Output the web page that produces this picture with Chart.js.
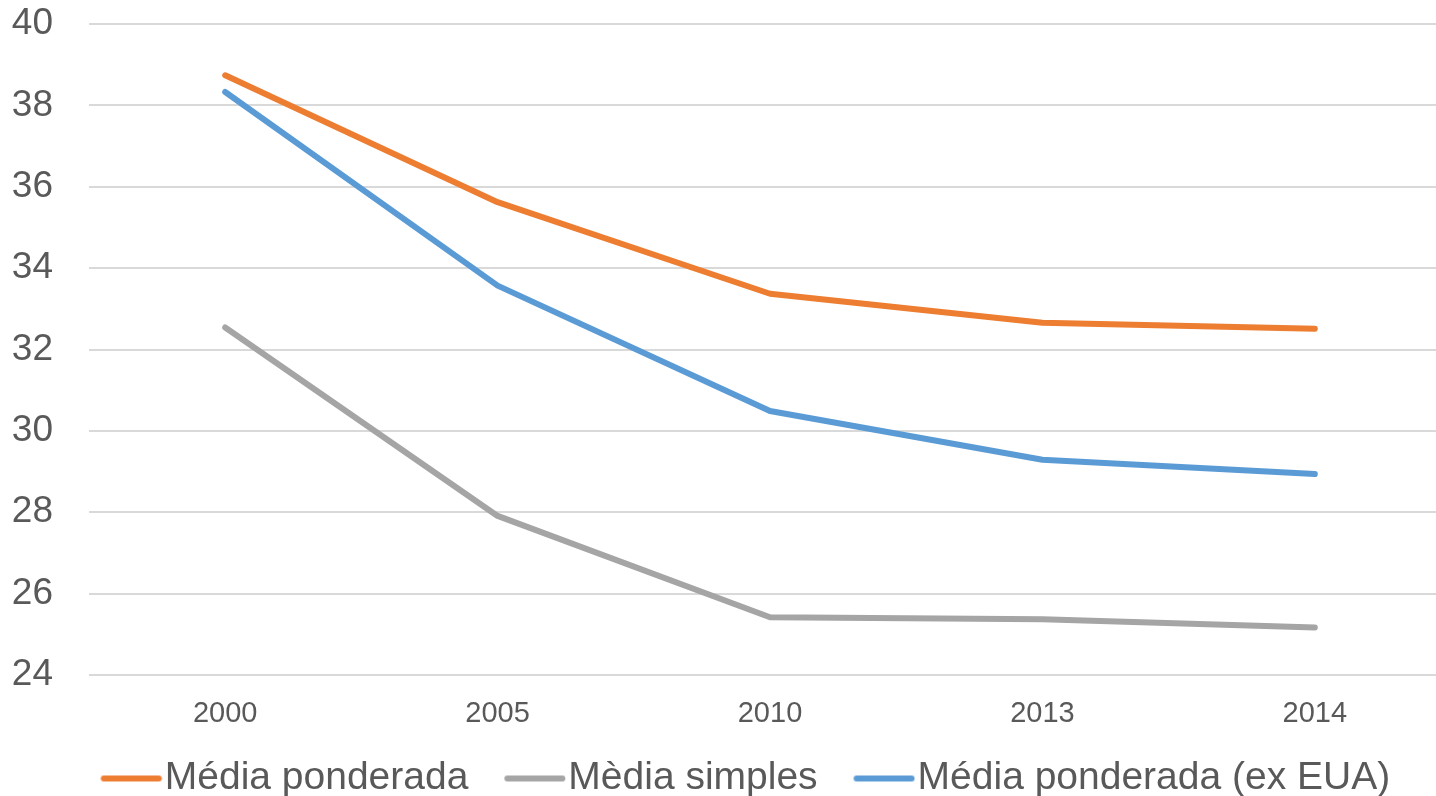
<!DOCTYPE html>
<html>
<head>
<meta charset="utf-8">
<script src="https://cdn.jsdelivr.net/npm/chart.js@4/dist/chart.umd.min.js"></script>
<style>
html,body{margin:0;padding:0;background:#fff;}
#wrap{width:1436px;height:796px;}
</style>
</head>
<body>
<div id="wrap"><canvas id="c" width="1436" height="796"></canvas></div>
<script>
const categories = ['2000', '2005', '2010', '2013', '2014'];
const mediaPonderada = [38.74, 35.62, 33.37, 32.66, 32.51];
const mediaSimples = [32.54, 27.91, 25.42, 25.37, 25.17];
const mediaPonderadaExEUA = [38.33, 33.57, 30.49, 29.29, 28.94];
const seriesNames = ['Média ponderada', 'Mèdia simples', 'Média ponderada (ex EUA)'];
const seriesColors = ['#ED7D31', '#A5A5A5', '#5B9BD5'];
const yTicks = [24, 26, 28, 30, 32, 34, 36, 38, 40];

const FONT = '"Liberation Sans", Arial, sans-serif';
const TXT = '#595959';

// legend swatch: a 60px line drawn close to its label
function swatch(color) {
  const c = document.createElement('canvas');
  c.width = 110; c.height = 12;
  const g = c.getContext('2d');
  g.strokeStyle = color; g.lineWidth = 6; g.lineCap = 'round';
  g.beginPath(); g.moveTo(51.25, 6); g.lineTo(106.25, 6); g.stroke();
  return c;
}
const swatches = seriesColors.map(swatch);

function ds(label, data, color) {
  return {
    label, data,
    borderColor: color, backgroundColor: color,
    borderWidth: 6, pointRadius: 0, pointHoverRadius: 0,
    borderCapStyle: 'round', borderJoinStyle: 'round',
    tension: 0, fill: false
  };
}

// the plot area of the original runs slightly past the right edge of the picture
const extendRight = {
  id: 'extendRight',
  afterLayout(chart) {
    const ext = 15;
    const a = chart.chartArea;
    a.right += ext; a.width += ext;
    const x = chart.scales.x;
    x.right += ext; x.width += ext;
    x.configure();
  }
};

new Chart(document.getElementById('c'), {
  type: 'line',
  data: {
    labels: categories,
    datasets: [
      ds(seriesNames[0], mediaPonderada, seriesColors[0]),
      ds(seriesNames[1], mediaSimples, seriesColors[1]),
      ds(seriesNames[2], mediaPonderadaExEUA, seriesColors[2])
    ]
  },
  plugins: [extendRight],
  options: {
    responsive: false,
    animation: false,
    layout: { padding: { left: 9, right: -15, top: 24, bottom: -12 } },
    plugins: {
      tooltip: { enabled: false },
      legend: {
        position: 'bottom',
        labels: {
          usePointStyle: true,
          pointStyleWidth: 75.5,
          padding: 5,
          color: TXT,
          font: { family: FONT, size: 39 },
          generateLabels: (chart) => {
            const items = Chart.defaults.plugins.legend.labels.generateLabels(chart);
            items.forEach((it, i) => { it.pointStyle = swatches[i]; });
            return items;
          }
        }
      }
    },
    scales: {
      x: {
        offset: true,
        grid: { display: false, drawTicks: false },
        border: { display: false },
        ticks: { color: TXT, font: { family: FONT, size: 29 }, padding: 22, maxRotation: 0 },
        afterFit: (s) => { s.height = 79; s.paddingLeft = 0; s.paddingRight = 0; }
      },
      y: {
        min: 24, max: 40,
        afterBuildTicks: (axis) => { axis.ticks = yTicks.map(v => ({ value: v })); },
        grid: { color: '#D9D9D9', lineWidth: 2, drawTicks: false },
        border: { display: false },
        ticks: { color: TXT, font: { family: FONT, size: 37 }, padding: 36 },
        afterFit: (s) => { s.width = 80; s.paddingTop = 0; s.paddingBottom = 0; }
      }
    }
  }
});
</script>
</body>
</html>
